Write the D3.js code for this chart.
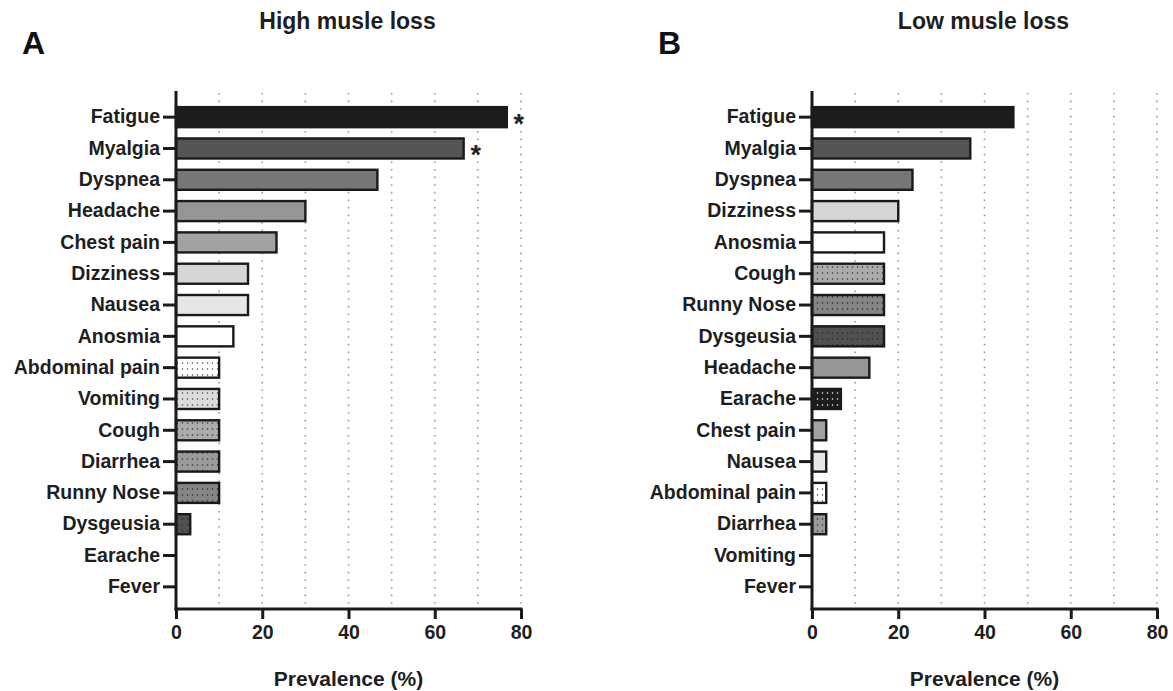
<!DOCTYPE html>
<html>
<head>
  <meta charset="utf-8">
  <title>Symptom prevalence by muscle loss</title>
  <style>
  body {
    margin: 0;
    background: #fff;
    font-family: "Liberation Sans", Arial, sans-serif;
  }
  .tick text {
    font-weight: bold;
  }
</style>
</head>
<body>
  <div id="viz"></div>
  <script src="https://d3js.org/d3.v7.min.js"></script>
  <script>
    // data (percent of group)
    const symptomsA = ["Fatigue", "Myalgia", "Dyspnea", "Headache", "Chest pain", "Dizziness", "Nausea", "Anosmia",
      "Abdominal pain", "Vomiting", "Cough", "Diarrhea", "Runny Nose", "Dysgeusia", "Earache", "Fever"];
    const valuesA = [76.7, 66.7, 46.7, 30.0, 23.3, 16.7, 16.7, 13.3, 10.0, 10.0, 10.0, 10.0, 10.0, 3.3, 0, 0];
    const starredA = ["Fatigue", "Myalgia"];

    const symptomsB = ["Fatigue", "Myalgia", "Dyspnea", "Dizziness", "Anosmia", "Cough", "Runny Nose", "Dysgeusia",
      "Headache", "Earache", "Chest pain", "Nausea", "Abdominal pain", "Diarrhea", "Vomiting", "Fever"];
    const valuesB = [46.7, 36.7, 23.3, 20.0, 16.7, 16.7, 16.7, 16.7, 13.3, 6.7, 3.3, 3.3, 3.3, 3.3, 0, 0];

    const xTicks = [0, 20, 40, 60, 80];
    const gridLines = [10, 20, 30, 40, 50, 60, 70, 80];

    // fill per symptom: [background, dot colour or null]
    const fills = {
      "Fatigue": ["#1c1c1c", null],
      "Myalgia": ["#555555", null],
      "Dyspnea": ["#767676", null],
      "Headache": ["#959595", null],
      "Chest pain": ["#a2a2a2", null],
      "Dizziness": ["#d6d6d6", null],
      "Nausea": ["#e6e6e6", null],
      "Anosmia": ["#ffffff", null],
      "Abdominal pain": ["#ffffff", "#444"],
      "Vomiting": ["#dcdcdc", "#444"],
      "Cough": ["#ababab", "#333"],
      "Diarrhea": ["#9a9a9a", "#333"],
      "Runny Nose": ["#858585", "#222"],
      "Dysgeusia": ["#505050", "#222"],
      "Earache": ["#1c1c1c", "#fff"],
      "Fever": ["#ffffff", null]
    };

    const W = 1173, H = 691;
    const font = "'Liberation Sans', Arial, sans-serif";
    const svg = d3.select("#viz").append("svg")
      .attr("width", W)
      .attr("height", H);

    // dot patterns
    const defs = svg.append("defs");
    Object.keys(fills).forEach((k, i) => {
      const [bg, dot] = fills[k];
      if (!dot) return;
      const p = defs.append("pattern")
        .attr("id", "pat" + i)
        .attr("patternUnits", "userSpaceOnUse")
        .attr("width", 5)
        .attr("height", 6);
      p.append("rect").attr("width", 5).attr("height", 6).attr("fill", bg);
      p.append("circle").attr("cx", 2.5).attr("cy", 3).attr("r", 0.75).attr("fill", dot);
    });
    function fillFor(name) {
      const i = Object.keys(fills).indexOf(name);
      return fills[name][1] ? `url(#pat${i})` : fills[name][0];
    }

    function drawPanel(left, symptoms, values, starred, title, letter) {
      const right = left + 345;
      const top = 91, bottom = 609;
      const x = d3.scaleLinear().domain([0, 80]).range([left, right]);
      const y = d3.scaleBand().domain(symptoms).range([101.5, 602.5]).paddingInner(0.36).paddingOuter(0.18);

      const g = svg.append("g");

      // dotted grid
      g.selectAll(".grid").data(gridLines).join("line")
        .attr("x1", d => x(d)).attr("x2", d => x(d))
        .attr("y1", top + 2).attr("y2", bottom - 2)
        .attr("stroke", "#9a9a9a")
        .attr("stroke-width", 1.6)
        .attr("stroke-dasharray", "1.6,6");

      // bars
      const rows = symptoms.map((s, i) => ({ s, v: values[i] }));
      g.selectAll(".bar").data(rows.filter(d => d.v > 0)).join("rect")
        .attr("x", x(0))
        .attr("y", d => y(d.s))
        .attr("width", d => x(d.v) - x(0))
        .attr("height", y.bandwidth())
        .attr("fill", d => fillFor(d.s))
        .attr("stroke", "#1a1a1a")
        .attr("stroke-width", 2.4);

      // significance marks
      g.selectAll(".star").data(rows.filter(d => starred.includes(d.s))).join("text")
        .attr("x", d => x(d.v) + 12)
        .attr("y", d => y(d.s) + y.bandwidth() / 2 + 16)
        .attr("text-anchor", "middle")
        .attr("font-family", font)
        .attr("font-size", 27)
        .attr("font-weight", "bold")
        .attr("fill", "#222")
        .text("*");

      // axes
      const yAxis = g.append("g")
        .attr("transform", `translate(${left},0)`)
        .call(d3.axisLeft(y).tickSize(13).tickPadding(3));
      yAxis.select(".domain").remove();
      yAxis.selectAll(".tick line").attr("stroke", "#1a1a1a").attr("stroke-width", 3);
      yAxis.selectAll(".tick text").attr("font-size", 19.5).attr("fill", "#1e1e1e")
        .attr("font-family", font);
      g.append("line")
        .attr("x1", left).attr("x2", left)
        .attr("y1", top).attr("y2", bottom + 1.5)
        .attr("stroke", "#1a1a1a").attr("stroke-width", 3);

      const xAxis = g.append("g")
        .attr("transform", `translate(0,${bottom})`)
        .call(d3.axisBottom(x).tickValues(xTicks).tickSize(10).tickPadding(6));
      xAxis.select(".domain").remove();
      xAxis.selectAll(".tick line").attr("stroke", "#1a1a1a").attr("stroke-width", 3);
      xAxis.selectAll(".tick text").attr("font-size", 19.5).attr("fill", "#1e1e1e")
        .attr("font-family", font);
      g.append("line")
        .attr("x1", left - 1.5).attr("x2", right + 1.5)
        .attr("y1", bottom).attr("y2", bottom)
        .attr("stroke", "#1a1a1a").attr("stroke-width", 3);

      g.append("text")
        .attr("x", (left + right) / 2)
        .attr("y", 686)
        .attr("text-anchor", "middle")
        .attr("font-family", font)
        .attr("font-size", 21)
        .attr("font-weight", "bold")
        .attr("fill", "#1e1e1e")
        .text("Prevalence (%)");

      g.append("text")
        .attr("x", (left + right) / 2 - 1)
        .attr("y", 29)
        .attr("text-anchor", "middle")
        .attr("font-family", font)
        .attr("font-size", 23)
        .attr("font-weight", "bold")
        .attr("fill", "#1e1e1e")
        .text(title);

      g.append("text")
        .attr("x", left - 154)
        .attr("y", 54)
        .attr("font-family", font)
        .attr("font-size", 32)
        .attr("font-weight", "bold")
        .attr("fill", "#111")
        .text(letter);
    }

    drawPanel(176, symptomsA, valuesA, starredA, "High musle loss", "A");
    drawPanel(812, symptomsB, valuesB, [], "Low musle loss", "B");
  </script>
</body>
</html>
